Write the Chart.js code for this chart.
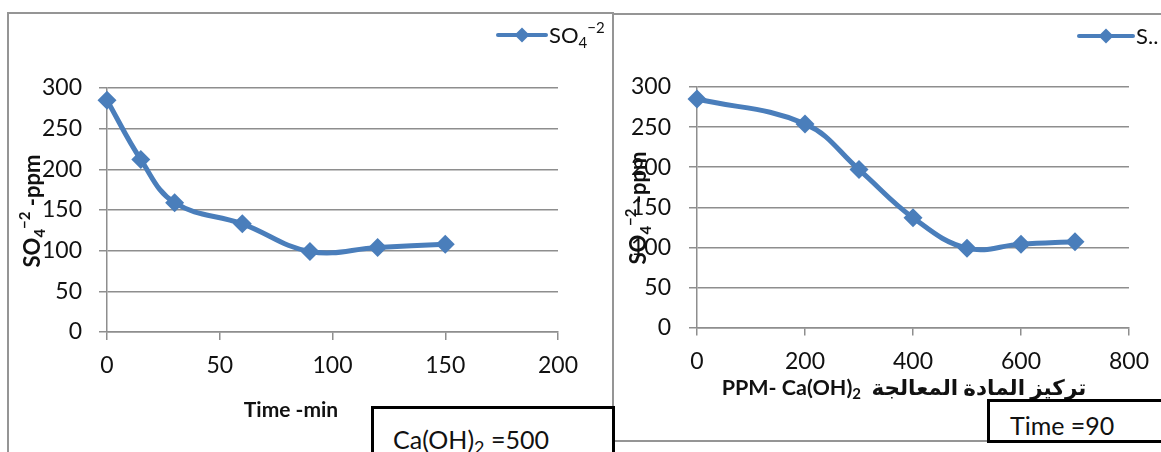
<!DOCTYPE html>
<html>
<head>
<meta charset="utf-8">
<script src="https://cdn.jsdelivr.net/npm/chart.js@4"></script>
<style>
  html, body { margin: 0; padding: 0; background: #fff; }
  body { width: 1161px; height: 452px; position: relative; overflow: hidden; font-family: Lato, "DejaVu Sans", sans-serif; }
  .cv { position: absolute; top: 0; }
  .ln { position: absolute; background: #959595; }
  .box { position: absolute; background: #fff; border: 3px solid #000; box-sizing: border-box; font-size: 25px; line-height: 30px; color: #111; white-space: nowrap; }
  .sb { font-size: 18px; position: relative; top: 5px; }
</style>
</head>
<body>
<div class="ln" style="left:7px;top:12px;width:2px;height:440px"></div>
<div class="ln" style="left:7px;top:12px;width:607px;height:2px"></div>
<div class="ln" style="left:612px;top:12px;width:2px;height:440px"></div>
<div class="ln" style="left:612px;top:13px;width:549px;height:2px"></div>
<div class="ln" style="left:612px;top:440px;width:549px;height:2px"></div>

<div class="cv" style="left:0;width:612px;height:452px"><canvas id="c1" width="612" height="452"></canvas></div>
<div class="cv" style="left:613px;width:548px;height:452px"><canvas id="c2" width="548" height="452"></canvas></div>

<div class="box" style="left:371px;top:406px;width:244px;height:60px;padding:15px 0 0 19px;">Ca(OH)<span class="sb">2</span> =500</div>
<div class="box" style="left:987px;top:399px;width:200px;height:44px;padding:8px 0 0 20px;">Time =90</div>

<script>
// ---- data ----
const timeMin = [0, 15, 30, 60, 90, 120, 150];
const so4ByTime = [285, 212, 159, 133, 99, 104, 108];
const doseCaOH = [0, 200, 300, 400, 500, 600, 700];
const so4ByDose = [285, 254, 197, 137, 99, 104, 107];
const seriesLabel = 'SO₄⁻²';
const yTitle = 'SO₄⁻² -ppm';
const xTitle1 = 'Time -min';
const xTitle2 = 'PPM- Ca(OH)₂  تركيز المادة المعالجة';

const BLUE = '#4a7ebb';
const GRID = '#8e8e8e';
const FONT = "Lato, 'DejaVu Sans', sans-serif";

// split text into runs: normal chars, subscript digits (₀-₉), superscript (⁻, ⁰-⁹)
const SUB = '₀₁₂₃₄₅₆₇₈₉', SUP = '⁰¹²³⁴⁵⁶⁷⁸⁹', SUPMAP = { '⁻': '−', '⁰': '0', '¹': '1', '²': '2', '³': '3', '⁴': '4', '⁵': '5', '⁶': '6', '⁷': '7', '⁸': '8', '⁹': '9' };
function runs(text) {
  const out = [];
  for (const ch of text) {
    let kind = 'n', c = ch;
    if (SUB.includes(ch)) { kind = 'sub'; c = String(SUB.indexOf(ch)); }
    else if (SUPMAP[ch] !== undefined) { kind = 'sup'; c = SUPMAP[ch]; }
    if (out.length && out[out.length - 1].kind === kind) out[out.length - 1].t += c;
    else out.push({ kind: kind, t: c });
  }
  return out;
}
function richText(ctx, text, x, y, size, weight, align) {
  const parts = runs(text);
  const small = Math.round(size * 0.68);
  const fontOf = p => weight + ' ' + (p.kind === 'n' ? size : small) + 'px ' + FONT;
  let total = 0;
  parts.forEach(p => { ctx.font = fontOf(p); p.w = ctx.measureText(p.t).width; total += p.w; });
  let cx = align === 'center' ? x - total / 2 : x;
  ctx.textAlign = 'left';
  ctx.textBaseline = 'alphabetic';
  const base = y + size * 0.35;
  parts.forEach(p => {
    ctx.font = fontOf(p);
    const dy = p.kind === 'sub' ? size * 0.22 : p.kind === 'sup' ? -size * 0.42 : 0;
    ctx.fillText(p.t, cx, base + dy);
    cx += p.w;
  });
}

const decor = {
  id: 'decor',
  afterDraw(chart, args, o) {
    const ctx = chart.ctx;
    ctx.save();
    ctx.fillStyle = '#111';
    richText(ctx, o.xTitle, o.xTitleX, o.xTitleY, o.xFont, 'bold', 'center');
    ctx.save();
    ctx.translate(o.yTitleX, o.yTitleY);
    ctx.rotate(-Math.PI / 2);
    richText(ctx, o.yTitle, 0, 0, 22, 'bold', 'center');
    ctx.restore();
    // legend
    const ly = o.legY;
    ctx.strokeStyle = BLUE;
    ctx.lineWidth = 4;
    ctx.lineCap = 'round';
    ctx.beginPath();
    ctx.moveTo(o.legX1, ly);
    ctx.lineTo(o.legX2, ly);
    ctx.stroke();
    const dx = (o.legX1 + o.legX2) / 2, r = 7.5;
    ctx.fillStyle = BLUE;
    ctx.beginPath();
    ctx.moveTo(dx, ly - r); ctx.lineTo(dx + r, ly); ctx.lineTo(dx, ly + r); ctx.lineTo(dx - r, ly);
    ctx.closePath(); ctx.fill();
    ctx.fillStyle = '#111';
    richText(ctx, o.legText, o.legX2 + 3, ly, 22, 'normal', 'left');
    ctx.restore();
  }
};

function makeChart(id, xs, ys, cfg) {
  const data = xs.map((x, i) => ({ x: x, y: ys[i] }));
  return new Chart(document.getElementById(id), {
    type: 'line',
    data: { datasets: [{
      label: seriesLabel,
      data: data,
      borderColor: BLUE,
      backgroundColor: BLUE,
      borderWidth: 5,
      tension: 0.4,
      pointStyle: 'rectRot',
      pointRadius: 9.5,
      pointBorderWidth: 0,
      clip: false
    }]},
    options: {
      responsive: false,
      animation: false,
      events: [],
      layout: { padding: { left: 0, right: cfg.padRight, top: cfg.padTop, bottom: 0 } },
      plugins: {
        legend: { display: false },
        tooltip: { enabled: false },
        decor: cfg.decor
      },
      scales: {
        x: {
          type: 'linear',
          min: cfg.xMin, max: cfg.xMax,
          afterFit: s => { s.height = cfg.xAxisH; },
          ticks: { stepSize: cfg.xStep, color: '#111', font: { family: FONT, size: 23 }, padding: 12, maxRotation: 0 },
          grid: { drawOnChartArea: false, color: GRID, lineWidth: 1.5, tickLength: 8 },
          border: { color: GRID, width: 1.5 }
        },
        y: {
          min: 0, max: 300,
          afterFit: s => { s.width = cfg.yAxisW; },
          ticks: { stepSize: 50, color: '#111', font: { family: FONT, size: 23 }, padding: cfg.yPad },
          grid: { color: GRID, lineWidth: 1.5, tickLength: 8 },
          border: { color: GRID, width: 1.5 }
        }
      }
    },
    plugins: [decor]
  });
}

makeChart('c1', timeMin, so4ByTime, {
  xMin: 0, xMax: 200, xStep: 50,
  padRight: 54, padTop: 88, xAxisH: 120, yAxisW: 107, yPad: 17,
  decor: { xTitle: xTitle1, xFont: 21, xTitleX: 291, xTitleY: 410, yTitle: yTitle, yTitleX: 32, yTitleY: 211,
           legX1: 498, legX2: 546, legY: 35, legText: seriesLabel }
});

makeChart('c2', doseCaOH, so4ByDose, {
  xMin: 0, xMax: 800, xStep: 200,
  padRight: 29, padTop: 87, xAxisH: 124.5, yAxisW: 84, yPad: 18,
  decor: { xTitle: xTitle2, xFont: 21.5, xTitleX: 291, xTitleY: 387, yTitle: yTitle, yTitleX: 25, yTitleY: 208,
           legX1: 466, legX2: 520, legY: 36, legText: 'S..' }
});
</script>
</body>
</html>
